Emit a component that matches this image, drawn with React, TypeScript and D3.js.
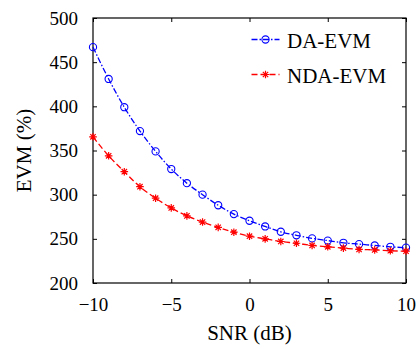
import React, { useEffect, useRef } from 'react';
import * as d3 from 'd3';

// SNR values (dB)
const snr = [-10, -9, -8, -7, -6, -5, -4, -3, -2, -1, 0, 1, 2, 3, 4, 5, 6, 7, 8, 9, 10];
// EVM (%) for the two estimators
const daEvm = [467, 431, 399, 372, 349, 329, 313, 300, 288, 278, 270.5, 264, 258, 254, 250.5, 248, 245.5, 244, 242.5, 241, 240];
const ndaEvm = [365.5, 344, 326, 309, 296, 285, 276, 269, 263, 257.5, 253, 250, 247, 245, 242.5, 241, 239.5, 238, 237.5, 236.5, 236];

const xTicks = [-10, -5, 0, 5, 10];
const yTicks = [200, 250, 300, 350, 400, 450, 500];

const App: React.FC = () => {
  const svgRef = useRef<SVGSVGElement>(null);

  useEffect(() => {
    if (!svgRef.current) return;
    document.body.style.margin = '0';

    const svg = d3.select(svgRef.current);
    svg.selectAll('*').remove();

    const font = "Tinos, 'Times New Roman', Times, 'Nimbus Roman', 'Noto Serif', 'Liberation Serif', 'DejaVu Serif', serif";
    const margin = { top: 18, right: 12, bottom: 66, left: 93 };
    const width = 418 - margin.left - margin.right;
    const height = 349 - margin.top - margin.bottom;

    const g = svg.append('g').attr('transform', `translate(${margin.left},${margin.top})`);

    const x = d3.scaleLinear().domain([-10, 10]).range([0, width]);
    const y = d3.scaleLinear().domain([200, 500]).range([height, 0]);

    // Axes with inward ticks, mirrored on top/right
    const tick = 4;
    const styleAxis = (sel: d3.Selection<SVGGElement, unknown, null, undefined>) => {
      sel.select('.domain').remove();
      sel.selectAll('line').attr('stroke', '#000').attr('stroke-width', 1);
      sel.attr('font-family', null).attr('font-size', null);
      sel.selectAll('text').style('font-family', font).style('font-size', '19px').attr('fill', '#000');
    };

    const bottom = g
      .append('g')
      .attr('transform', `translate(0,${height})`)
      .call(d3.axisBottom(x).tickValues(xTicks).tickSize(-tick).tickPadding(15).tickFormat(d => {
        const v = d as number;
        return v < 0 ? `\u2212${Math.abs(v)}` : `${v}`;
      }));
    styleAxis(bottom);

    const left = g
      .append('g')
      .call(d3.axisLeft(y).tickValues(yTicks).tickSize(-tick).tickPadding(15));
    styleAxis(left);

    const top = g.append('g').call(d3.axisTop(x).tickValues(xTicks).tickSize(-tick).tickFormat(() => ''));
    styleAxis(top);
    const right = g
      .append('g')
      .attr('transform', `translate(${width},0)`)
      .call(d3.axisRight(y).tickValues(yTicks).tickSize(-tick).tickFormat(() => ''));
    styleAxis(right);

    // Box
    g.append('rect')
      .attr('width', width)
      .attr('height', height)
      .attr('fill', 'none')
      .attr('stroke', '#000')
      .attr('stroke-width', 1.2);

    const series = [
      { name: 'DA-EVM', values: daEvm, color: '#0000ff', dash: '6,2,1.5,2', marker: 'circle' },
      { name: 'NDA-EVM', values: ndaEvm, color: '#ff0000', dash: '6,3', marker: 'star' },
    ];

    const line = d3
      .line<number>()
      .x((_, i) => x(snr[i]))
      .y(d => y(d))
      .curve(d3.curveMonotoneX);

    const starPath = (r: number) => {
      const d = r * Math.SQRT1_2;
      return `M${-r},0L${r},0M0,${-r}L0,${r}M${-d},${-d}L${d},${d}M${-d},${d}L${d},${-d}`;
    };

    const drawMarker = (
      sel: d3.Selection<SVGGElement, unknown, null, undefined>,
      kind: string,
      color: string,
      cx: number,
      cy: number
    ) => {
      if (kind === 'circle') {
        sel.append('circle')
          .attr('cx', cx)
          .attr('cy', cy)
          .attr('r', 3.6)
          .attr('fill', 'none')
          .attr('stroke', color)
          .attr('stroke-width', 1.1);
      } else {
        sel.append('path')
          .attr('transform', `translate(${cx},${cy})`)
          .attr('d', starPath(3.8))
          .attr('stroke', color)
          .attr('stroke-width', 1.2);
      }
    };

    series.forEach(s => {
      g.append('path')
        .datum(s.values)
        .attr('fill', 'none')
        .attr('stroke', s.color)
        .attr('stroke-width', 1.3)
        .attr('stroke-dasharray', s.dash)
        .attr('d', line);
      const mg = g.append('g');
      s.values.forEach((v, i) => drawMarker(mg, s.marker, s.color, x(snr[i]), y(v)));
    });

    // Legend
    const legend = svg.append('g');
    series.forEach((s, i) => {
      const ly = 39.5 + i * 35;
      legend.append('line')
        .attr('x1', 251.5)
        .attr('x2', 279.5)
        .attr('y1', ly)
        .attr('y2', ly)
        .attr('stroke', s.color)
        .attr('stroke-width', 1.3)
        .attr('stroke-dasharray', s.dash);
      drawMarker(legend, s.marker, s.color, 265.5, ly);
      legend.append('text')
        .attr('x', 287)
        .attr('y', ly + 8.5)
        .style('font-family', font)
        .style('font-size', '21px')
        .attr('fill', '#000')
        .text(s.name);
    });

    // Axis labels
    svg.append('text')
      .attr('x', margin.left + width / 2)
      .attr('y', 340)
      .attr('text-anchor', 'middle')
      .style('font-family', font)
      .style('font-size', '21px')
      .attr('fill', '#000')
      .text('SNR (dB)');

    svg.append('text')
      .attr('transform', `translate(31,${margin.top + height / 2}) rotate(-90)`)
      .attr('text-anchor', 'middle')
      .style('font-family', font)
      .style('font-size', '21px')
      .attr('fill', '#000')
      .text('EVM (%)');
  }, []);

  return (
    <svg
      ref={svgRef}
      width={418}
      height={349}
      style={{ position: 'absolute', left: 0, top: 0, background: '#fff' }}
    />
  );
};

export default App;
